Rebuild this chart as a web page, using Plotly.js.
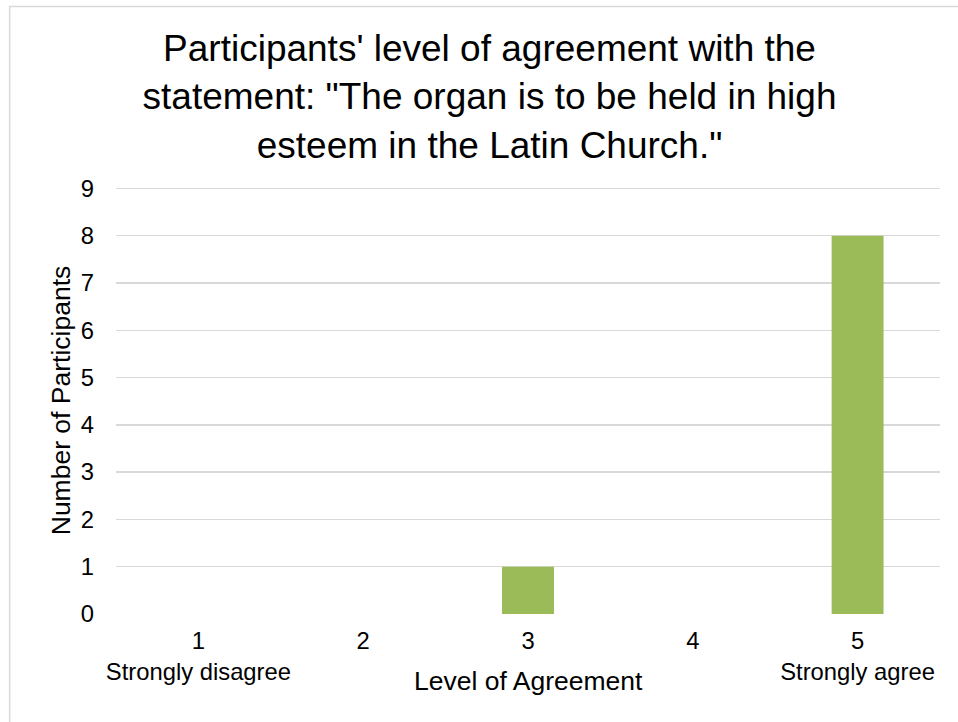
<!DOCTYPE html>
<html>
<head>
<meta charset="utf-8">
<script src="https://cdn.plot.ly/plotly-3.0.1.min.js"></script>
<style>
  html, body { margin: 0; padding: 0; background: #fff; }
  #chart { width: 958px; height: 722px; }
</style>
</head>
<body>
<div id="chart"></div>
<script>
const categories = ['1', '2', '3', '4', '5'];
const tickLabels = ['1<br>Strongly disagree', '2', '3', '4', '5<br>Strongly agree'];
const counts = [0, 0, 1, 0, 8];
const yTicks = [0, 1, 2, 3, 4, 5, 6, 7, 8, 9];
const titleText = "Participants' level of agreement with the<br>statement: \"The organ is to be held in high<br>esteem in the Latin Church.\"";
const xTitle = 'Level of Agreement';
const yTitle = 'Number of Participants';

const font = 'Liberation Sans, Arial, sans-serif';

const trace = {
  type: 'bar',
  x: categories,
  y: counts,
  marker: { color: '#9BBB59' },
  hoverinfo: 'x+y'
};

const W = 958, H = 722;
const L = 115.5, R = 17.5, T = 186.6, B = 108;
const pw = W - L - R, ph = H - T - B;

const layout = {
  width: W,
  height: H,
  paper_bgcolor: '#ffffff',
  plot_bgcolor: '#ffffff',
  margin: { l: L, r: R, t: T, b: B, pad: 0 },
  showlegend: false,
  bargap: 0.685,
  font: { family: font, color: '#000000' },
  title: {
    text: titleText,
    font: { family: font, size: 37, color: '#000000' },
    xref: 'container', x: 0.511, xanchor: 'center',
    yref: 'container', y: 0.915, yanchor: 'top'
  },
  xaxis: {
    type: 'category',
    tickvals: categories,
    ticktext: tickLabels,
    tickfont: { family: font, size: 23.8, color: '#000000' },
    showgrid: false,
    zeroline: false,
    showline: false,
    ticks: '',
    ticklabelstandoff: 10
  },
  yaxis: {
    range: [0, 9.03],
    tickvals: yTicks,
    ticktext: yTicks.map(String),
    tickfont: { family: font, size: 23.8, color: '#000000' },
    showgrid: true,
    gridcolor: '#d9d9d9',
    gridwidth: 1.5,
    zeroline: false,
    showline: false,
    ticks: '',
    ticklabelstandoff: 21,
    title: {
      text: yTitle,
      font: { family: font, size: 26.5, color: '#000000' },
      standoff: 2
    }
  },
  annotations: [{
    text: xTitle,
    xref: 'paper', yref: 'paper',
    x: 0.5, xanchor: 'center',
    y: -(681 - (T + ph)) / ph, yanchor: 'middle',
    showarrow: false,
    font: { family: font, size: 26.5, color: '#000000' }
  }],
  shapes: [{
    type: 'rect', xref: 'paper', yref: 'paper',
    x0: (9 - L) / pw, x1: (W + 5 - L) / pw,
    y0: (ph + T - (H + 5)) / ph, y1: (ph + T - 6) / ph,
    line: { color: '#d9d9d9', width: 1.5 },
    fillcolor: 'rgba(0,0,0,0)',
    layer: 'below'
  }]
};

Plotly.newPlot('chart', [trace], layout, { staticPlot: true, displayModeBar: false });
</script>
</body>
</html>
